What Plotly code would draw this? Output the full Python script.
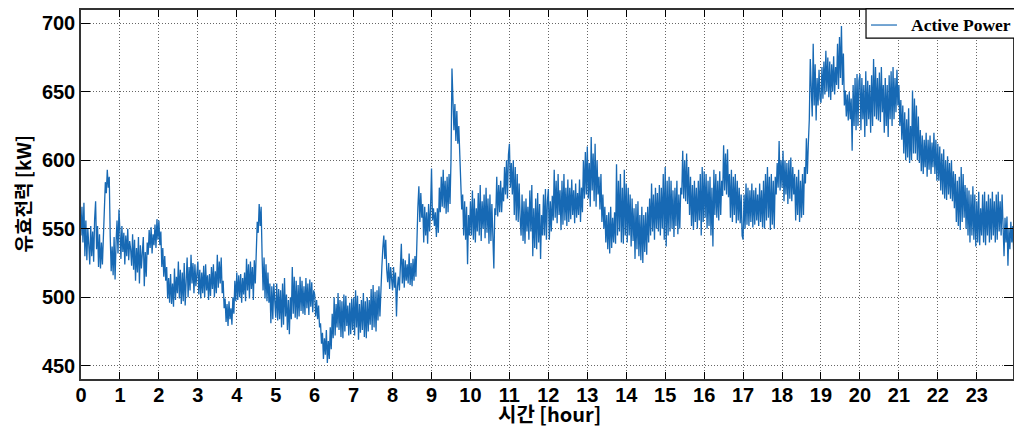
import plotly.graph_objects as go

step_h = 0.025
power_kw = [
    # hour 0
    545, 566, 540, 569, 530, 556, 527, 550, 538, 524, 552, 530, 548, 526, 557, 570, 535, 552, 522, 546,
    521, 540, 524, 549, 560, 584, 576, 593, 580, 588, 545, 519, 537, 516, 544, 513, 540, 556, 532, 564,
    # hour 1
    548, 528, 552, 533, 547, 524, 545, 530, 550, 527, 541, 535, 523, 546, 520, 542, 512, 536, 518, 544,
    510, 538, 521, 531, 544, 508, 533, 515, 540, 531, 549, 536, 551, 532, 546, 538, 553, 536, 557, 542,
    # hour 2
    556, 538, 548, 522, 536, 515, 530, 512, 522, 499, 514, 496, 517, 495, 510, 493, 521, 498, 515, 503,
    526, 499, 520, 495, 518, 497, 525, 494, 512, 529, 500, 522, 505, 531, 510, 525, 503, 524, 508, 520,
    # hour 3
    526, 502, 520, 499, 518, 503, 523, 500, 524, 505, 516, 498, 517, 501, 522, 506, 524, 500, 519, 503,
    531, 507, 526, 510, 529, 503, 512, 492, 499, 482, 495, 479, 497, 484, 492, 480, 500, 488, 512, 497,
    # hour 4
    518, 498, 516, 500, 517, 496, 514, 502, 518, 497, 528, 505, 524, 499, 526, 506, 522, 498, 527, 510,
    530, 555, 547, 568, 552, 566, 530, 505, 529, 499, 524, 497, 518, 496, 510, 481, 508, 484, 510, 490,
    # hour 5
    485, 510, 483, 506, 484, 505, 478, 510, 480, 514, 486, 502, 476, 498, 473, 500, 484, 522, 488, 515,
    485, 512, 484, 509, 486, 515, 490, 512, 488, 508, 487, 514, 492, 510, 487, 513, 493, 511, 489, 505,
    # hour 6
    502, 486, 498, 484, 494, 478, 481, 466, 474, 455, 470, 458, 476, 452, 468, 455, 478, 462, 488, 470,
    500, 472, 495, 478, 503, 476, 498, 471, 497, 470, 502, 475, 501, 479, 494, 472, 496, 473, 499, 476,
    # hour 7
    500, 472, 505, 478, 501, 469, 495, 474, 498, 476, 503, 471, 497, 470, 500, 475, 498, 480, 506, 476,
    509, 478, 504, 475, 505, 483, 508, 486, 510, 522, 536, 545, 528, 542, 520, 511, 525, 506, 522, 510,
    # hour 8
    505, 522, 507, 518, 486, 508, 515, 505, 530, 539, 510, 528, 507, 527, 512, 524, 510, 532, 509, 525,
    508, 528, 512, 530, 515, 554, 566, 581, 555, 576, 558, 568, 540, 566, 545, 562, 539, 568, 548, 565,
    # hour 9
    594, 556, 565, 552, 562, 544, 565, 547, 580, 562, 588, 566, 593, 565, 585, 561, 588, 562, 590, 568,
    600, 667, 650, 622, 641, 614, 636, 612, 625, 603, 588, 564, 575, 545, 570, 542, 566, 524, 560, 545,
    # hour 10
    570, 545, 578, 542, 572, 540, 565, 548, 576, 545, 582, 541, 570, 550, 575, 543, 580, 547, 572, 539,
    575, 541, 568, 545, 521, 565, 560, 588, 559, 582, 562, 585, 562, 580, 570, 595, 575, 600, 572, 604,
    # hour 11
    612, 580, 598, 575, 600, 560, 595, 556, 590, 555, 583, 558, 545, 575, 541, 570, 539, 572, 548, 566,
    542, 578, 548, 582, 530, 565, 536, 572, 535, 576, 540, 568, 528, 560, 545, 575, 545, 579, 542, 570,
    # hour 12
    579, 542, 570, 548, 574, 556, 593, 558, 585, 554, 590, 560, 578, 549, 585, 553, 590, 556, 580, 552,
    586, 555, 580, 557, 586, 560, 578, 554, 583, 558, 576, 560, 586, 555, 580, 562, 600, 572, 606, 575,
    # hour 13
    610, 572, 598, 566, 617, 578, 605, 570, 612, 566, 600, 575, 588, 564, 590, 555, 575, 550, 566, 540,
    560, 535, 562, 532, 566, 536, 558, 540, 562, 539, 597, 545, 585, 548, 590, 540, 580, 539, 593, 545,
    # hour 14
    583, 540, 580, 545, 575, 537, 572, 541, 565, 528, 568, 535, 570, 530, 560, 527, 566, 525, 560, 533,
    562, 531, 566, 540, 572, 545, 583, 548, 575, 542, 580, 550, 576, 548, 582, 545, 580, 550, 590, 542,
    # hour 15
    595, 537, 585, 545, 588, 548, 585, 550, 578, 544, 580, 552, 585, 546, 575, 550, 580, 575, 607, 572,
    600, 570, 605, 568, 595, 560, 588, 552, 582, 549, 585, 555, 580, 550, 585, 556, 590, 545, 595, 555,
    # hour 16
    592, 558, 590, 550, 585, 552, 588, 545, 580, 537, 593, 560, 590, 558, 585, 556, 592, 560, 585, 574,
    611, 578, 605, 575, 608, 573, 590, 558, 593, 555, 588, 560, 590, 554, 585, 556, 580, 554, 575, 545,
    # hour 17
    542, 575, 550, 583, 553, 580, 552, 578, 555, 583, 551, 578, 553, 580, 556, 575, 552, 583, 555, 578,
    551, 585, 550, 590, 556, 595, 558, 588, 549, 590, 553, 585, 550, 588, 575, 598, 580, 614, 578, 600,
    # hour 18
    580, 607, 570, 600, 575, 598, 568, 600, 572, 602, 570, 595, 575, 590, 556, 588, 560, 593, 555, 585,
    558, 590, 560, 595, 583, 616, 590, 612, 630, 674, 648, 632, 685, 640, 670, 629, 660, 640, 666, 645,
    # hour 19
    642, 668, 645, 672, 648, 680, 650, 675, 646, 672, 644, 670, 650, 676, 648, 668, 655, 685, 652, 690,
    660, 698, 655, 678, 640, 651, 632, 648, 629, 650, 630, 645, 607, 655, 625, 660, 622, 663, 625, 658,
    # hour 20
    663, 622, 660, 630, 655, 617, 665, 625, 658, 630, 655, 620, 662, 625, 674, 632, 668, 630, 660, 629,
    664, 628, 668, 635, 655, 620, 660, 625, 655, 617, 662, 630, 665, 625, 668, 630, 660, 635, 666, 640,
    # hour 21
    655, 625, 644, 615, 640, 605, 635, 600, 630, 602, 638, 598, 625, 600, 651, 605, 645, 605, 640, 600,
    632, 598, 622, 592, 618, 590, 615, 595, 620, 588, 615, 593, 618, 590, 613, 595, 620, 590, 615, 585,
    # hour 22
    612, 585, 610, 578, 605, 575, 608, 572, 600, 571, 603, 575, 598, 572, 600, 570, 592, 565, 590, 555,
    585, 552, 588, 549, 595, 555, 590, 558, 582, 550, 580, 545, 578, 540, 575, 545, 581, 542, 575, 537,
    # hour 23
    570, 540, 577, 538, 565, 545, 575, 540, 577, 538, 570, 545, 575, 540, 572, 542, 577, 545, 570, 540,
    575, 542, 577, 548, 570, 545, 575, 542, 530, 558, 540, 559, 523, 550, 535, 555, 540, 552, 531, 545,
]
hours = [i * step_h for i in range(len(power_kw))]

x_ticks = list(range(0, 24))
y_ticks = [450, 500, 550, 600, 650, 700]

series_name = "Active Power"
x_title = "시간 [hour]"
y_title = "유효전력 [kW]"

LINE_COLOR = "#1769b4"

fig = go.Figure()
fig.add_trace(go.Scatter(
    x=hours, y=power_kw, mode="lines", name=series_name, showlegend=False,
    line=dict(color=LINE_COLOR, width=1.3),
))

tickfont = dict(family="Liberation Sans, Arial, sans-serif", size=20, color="black", weight="bold")
ytitlefont = dict(family="Noto Sans CJK KR, sans-serif", size=19, color="black", weight="bold")
xtitlefont = dict(family="Noto Sans CJK KR, sans-serif", size=20, color="black", weight="bold")
grid_dash = "1px,2px"

fig.update_layout(
    width=1014, height=427,
    margin=dict(l=81, r=1, t=10, b=48, autoexpand=False),
    plot_bgcolor="white", paper_bgcolor="white",
    showlegend=False,
    xaxis=dict(
        range=[0, 23.93], tickmode="array", tickvals=x_ticks,
        ticktext=[str(v) for v in x_ticks],
        tickfont=tickfont, ticks="inside", ticklen=7, tickcolor="black",
        ticklabelstandoff=-3,
        showline=True, linecolor="#333", linewidth=1.5, mirror="ticks",
        showgrid=True, gridcolor="#666", griddash=grid_dash, gridwidth=1,
        zeroline=False, automargin=False,
    ),
    yaxis=dict(
        range=[440.3, 709.7], tickmode="array", tickvals=y_ticks,
        tickfont=tickfont, ticks="inside", ticklen=9, tickcolor="black",
        showline=True, linecolor="#333", linewidth=1.5, mirror="ticks",
        showgrid=True, gridcolor="#666", griddash=grid_dash, gridwidth=1,
        zeroline=False, automargin=False,
    ),
)

# axis titles placed as annotations (pixel-offset from plot area)
fig.add_annotation(text=y_title, xref="paper", yref="paper", x=0, y=0.5,
                   xanchor="center", yanchor="middle", xshift=-59, textangle=-90,
                   showarrow=False, font=ytitlefont)
fig.add_annotation(text=x_title, xref="paper", yref="paper", x=0.5, y=0,
                   xanchor="center", yanchor="middle", yshift=-34, xshift=2,
                   showarrow=False, font=xtitlefont)

# legend box (top-right, like the reference)
fig.add_shape(type="rect", xref="paper", yref="paper",
              x0=0.8423, x1=1.003, y0=0.924, y1=1.003,
              line=dict(color="black", width=1.2), fillcolor="white", layer="above")
fig.add_shape(type="line", xref="paper", yref="paper",
              x0=0.8476, x1=0.8755, y0=0.9593, y1=0.9593,
              line=dict(color=LINE_COLOR, width=1.2), layer="above")
fig.add_annotation(text=series_name, xref="paper", yref="paper", x=0.8884, y=0.9593,
                   xanchor="left", yanchor="middle", showarrow=False,
                   font=dict(family="Liberation Serif, Times New Roman, serif", size=17.5,
                             color="black", weight="bold"))

# remove the page's default 8px body margin so the figure fills the window exactly
fig.write_html(
    "out.html",
    config={"displayModeBar": False},
    post_script="document.body.style.margin='0';document.body.style.overflow='hidden';",
)
